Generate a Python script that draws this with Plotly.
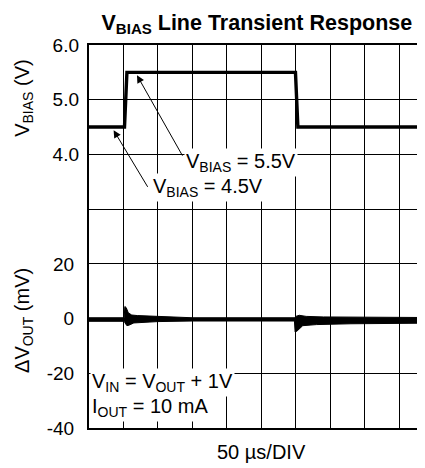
import plotly.graph_objects as go

# ---- data ----
# V_BIAS step (time in µs, voltage in V)
t_bias = [0, 51.5, 55, 299.5, 303, 499]
v_bias = [4.5, 4.5, 5.5, 5.5, 4.5, 4.5]

# ΔV_OUT envelope (time in µs, mV)
t_up = [0, 51, 52, 54, 57, 62, 70, 100, 148, 150, 298, 300, 305, 315, 340, 400, 478, 480, 499]
dv_up = [0.3, 0.3, 4.4, 4.0, 2.1, 1.3, 1.1, 0.8, 0.5, 0.3, 0.3, 0.8, 1.2, 0.8, 0.6, 0.4, 0.3, 0.4, 0.4]
t_lo = [0, 51, 52, 55, 58, 65, 100, 148, 150, 298, 299, 302, 310, 330, 380, 478, 480, 499]
dv_lo = [-1.0, -1.0, -1.5, -2.6, -2.4, -1.6, -1.1, -0.7, -0.9, -0.9, -4.9, -4.5, -2.6, -2.2, -1.9, -1.7, -1.0, -1.0]

mv_ticks = [-40, -20, 0, 20, 40, 60, 80, 100]
mv_labels = ["-40", "-20", "0", "20", "", "", "", ""]
v_ticks = [4, 5, 6]
v_labels = ["4.0", "5.0", "6.0"]

FONT = "Liberation Sans, Arial, sans-serif"
FS = 20

fig = go.Figure()

fig.add_trace(go.Scatter(x=t_lo, y=dv_lo, mode="lines",
                         line=dict(color="black", width=1), showlegend=False))
fig.add_trace(go.Scatter(x=t_up, y=dv_up, mode="lines", fill="tonexty",
                         fillcolor="black",
                         line=dict(color="black", width=1), showlegend=False))
fig.add_trace(go.Scatter(x=t_bias, y=v_bias, mode="lines", yaxis="y2",
                         line=dict(color="black", width=3.4), showlegend=False))

fig.update_layout(
    width=425, height=468,
    margin=dict(l=81, r=0, t=37, b=48),
    plot_bgcolor="white", paper_bgcolor="white",
    font=dict(family=FONT, size=FS, color="black"),
    title=dict(text="<b>V<sub>BIAS</sub> Line Transient Response</b>",
               x=0.488, xref="paper", xanchor="center",
               y=1 - 14 / 468, yref="container", yanchor="middle",
               font=dict(size=21.5, family=FONT, color="black")),
    xaxis=dict(range=[0, 499], dtick=50, tick0=0, showgrid=True,
               gridcolor="black", gridwidth=1.3, showticklabels=False,
               showline=True, linecolor="black", linewidth=2, mirror=True,
               zeroline=False, ticks=""),
    yaxis=dict(range=[-40, 100], tickvals=mv_ticks, ticktext=mv_labels,
               showgrid=True, gridcolor="black", gridwidth=1.3,
               showline=True, linecolor="black", linewidth=2,
               zeroline=False, ticks="", ticklabelstandoff=9,
               tickfont=dict(size=19)),
    yaxis2=dict(range=[-1, 6], overlaying="y", side="left",
                tickvals=v_ticks, ticktext=v_labels, showgrid=False,
                zeroline=False, ticks="", ticklabelstandoff=9,
                tickfont=dict(size=19), showline=False),
)

ann = []
# arrows
ann.append(dict(x=69.6, y=5.447, xref="x", yref="y2", ax=136.8, ay=3.95,
                axref="x", ayref="y2", text="", showarrow=True,
                arrowhead=2, arrowsize=1.5, arrowwidth=1, arrowcolor="black"))
ann.append(dict(x=35.7, y=4.443, xref="x", yref="y2", ax=86.4, ay=3.38,
                axref="x", ayref="y2", text="", showarrow=True,
                arrowhead=2, arrowsize=1.5, arrowwidth=1, arrowcolor="black"))
# labels
ann.append(dict(x=220, y=3.86, xref="x", yref="y2", showarrow=False,
                xanchor="center", yanchor="middle",
                text="V<sub>BIAS</sub> = 5.5V", bgcolor="white", borderpad=1,
                font=dict(size=FS)))
ann.append(dict(x=172, y=3.40, xref="x", yref="y2", showarrow=False,
                xanchor="center", yanchor="middle",
                text="V<sub>BIAS</sub> = 4.5V", bgcolor="white", borderpad=1,
                font=dict(size=FS)))
ann.append(dict(x=2, y=-23.5, xref="x", yref="y", showarrow=False,
                xanchor="left", yanchor="middle",
                text="V<sub>IN</sub> = V<sub>OUT</sub> + 1V",
                bgcolor="white", borderpad=1, font=dict(size=FS)))
ann.append(dict(x=2, y=-32.6, xref="x", yref="y", showarrow=False,
                xanchor="left", yanchor="middle", text="I<sub>OUT</sub> = 10 mA",
                bgcolor="white", borderpad=1, font=dict(size=FS)))
# axis titles
ann.append(dict(x=-0.189, y=0.862, xref="paper", yref="paper", showarrow=False,
                xanchor="center", yanchor="middle",
                textangle=-90, text="V<sub>BIAS</sub> (V)", font=dict(size=FS)))
ann.append(dict(x=-0.189, y=0.282, xref="paper", yref="paper", showarrow=False,
                xanchor="center", yanchor="middle",
                textangle=-90, text="ΔV<sub>OUT</sub> (mV)", font=dict(size=FS)))
ann.append(dict(x=0.5, y=-0.0627, xref="paper", yref="paper", showarrow=False,
                xanchor="center", yanchor="middle",
                text="50 µs/DIV", font=dict(size=FS)))
fig.update_layout(annotations=ann)

fig.write_html("out.html")
